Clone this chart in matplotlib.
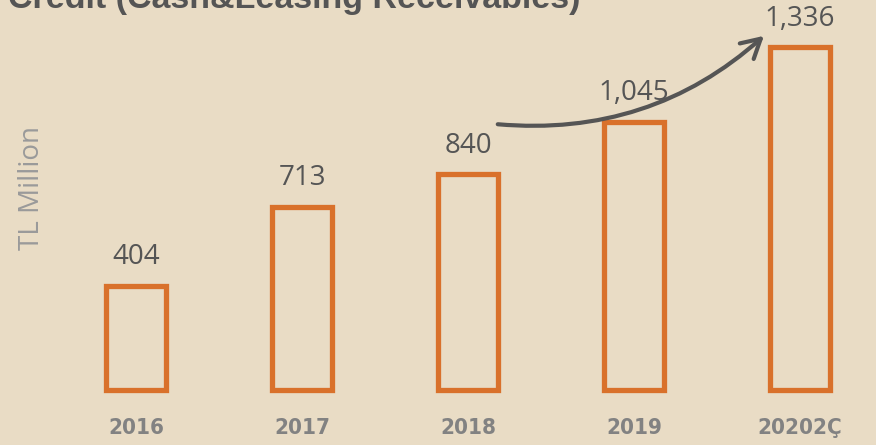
import matplotlib.pyplot as plt
from matplotlib.patches import FancyArrowPatch

# datos del grafico
anios = ["2016", "2017", "2018", "2019", "20202Ç"]
valores = [404, 713, 840, 1045, 1336]
etiquetas = ["404", "713", "840", "1,045", "1,336"]

fondo = "#E9DCC5"
naranja = "#D9712B"

fig = plt.figure(figsize=(8.76, 4.45), dpi=100, facecolor=fondo)
ax = fig.add_axes([0, 0, 1, 1], facecolor=fondo)

x = range(len(anios))
ax.bar(x, valores, width=0.36, facecolor="none", edgecolor=naranja, linewidth=3.8)

for i, (v, t) in enumerate(zip(valores, etiquetas)):
    ax.text(i, v + 58, t, ha="center", va="bottom", fontsize=20,
            color="#555555", family="Open Sans")

for i, a in enumerate(anios):
    ax.text(i, -150, a, ha="center", va="center", fontsize=16, fontweight="bold",
            color="#828282", family="DejaVu Sans", fontstretch="condensed")

ax.set_xlim(-136 / 166, (876 - 136) / 166)
ax.set_ylim(-55.5 / 0.256, (445 - 55.5) / 0.256)
ax.axis("off")

fig.text(32 / 876, 1 - 188 / 445, "TL Million", rotation=90, ha="center", va="center",
         fontsize=20, color="#9A9A9A", family="Open Sans")

fig.text(8 / 876, 1 - 8 / 445, "Credit (Cash&Leasing Receivables)", ha="left",
         va="baseline", fontsize=24.5, fontweight="bold", color="#555555",
         family="Liberation Sans")

# flecha de crecimiento
flecha = FancyArrowPatch((495 / 876, 1 - 124 / 445), (766 / 876, 1 - 34 / 445),
                         transform=fig.transFigure, connectionstyle="arc3,rad=0.22",
                         arrowstyle="->,head_length=9,head_width=5", color="#555555",
                         linewidth=3, mutation_scale=1.5)
fig.patches.append(flecha)

fig.savefig("out.png", dpi=100, facecolor=fondo)
